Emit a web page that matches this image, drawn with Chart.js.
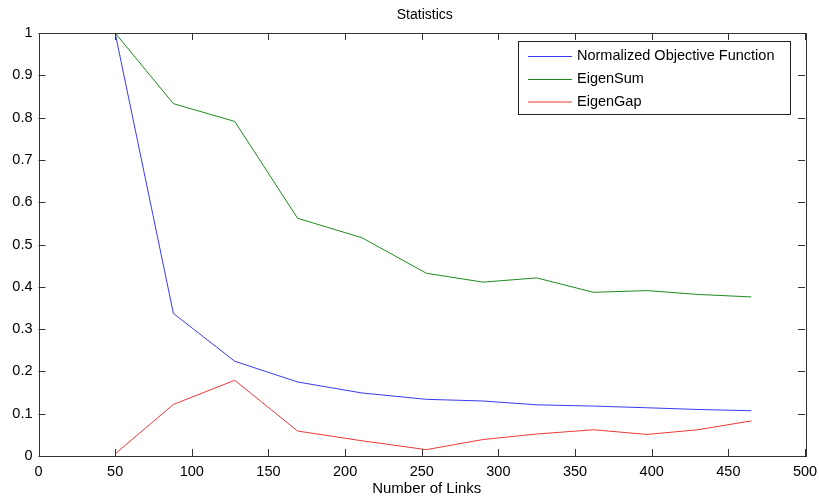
<!DOCTYPE html>
<html>
<head>
<meta charset="utf-8">
<script src="https://cdn.jsdelivr.net/npm/chart.js@4/dist/chart.umd.min.js"></script>
<style>
  html, body { margin: 0; padding: 0; background: #fff; }
  #wrap { width: 819px; height: 496px; }
</style>
</head>
<body>
<div id="wrap"><canvas id="statChart" width="819" height="496"></canvas></div>
<script>
// number of links (x) and the three series
var links = [50, 88, 128, 169, 211, 253, 290, 325, 362, 397, 430, 465];
var objective = [1.0, 0.337, 0.224, 0.175, 0.149, 0.134, 0.130, 0.121, 0.118, 0.114, 0.110, 0.107];
var eigenSum = [1.0, 0.833, 0.791, 0.562, 0.516, 0.432, 0.411, 0.421, 0.387, 0.391, 0.382, 0.376];
var eigenGap = [0.005, 0.122, 0.179, 0.059, 0.036, 0.015, 0.039, 0.052, 0.062, 0.051, 0.062, 0.083];

var xTicks = [0, 50, 100, 150, 200, 250, 300, 350, 400, 450, 500];
var yTicks = [0, 0.1, 0.2, 0.3, 0.4, 0.5, 0.6, 0.7, 0.8, 0.9, 1];

var FONT = '"Liberation Sans", Arial, Helvetica, sans-serif';

function pts(ys) {
    return links.map(function (x, i) { return { x: x, y: ys[i] }; });
}

// matlab style box, inward ticks, title, x label and legend
var matlabBox = {
    id: 'matlabBox',
    afterDraw: function (chart) {
        var ctx = chart.ctx;
        var a = chart.chartArea;
        var xs = chart.scales.x, ys = chart.scales.y;
        ctx.save();
        ctx.strokeStyle = '#333';
        ctx.lineWidth = 1;
        ctx.strokeRect(Math.round(a.left) + 0.5, Math.round(a.top) + 0.5,
            Math.round(a.right - a.left), Math.round(a.bottom - a.top));
        ctx.beginPath();
        xTicks.forEach(function (v) {
            var px = Math.round(xs.getPixelForValue(v)) + 0.5;
            ctx.moveTo(px, a.bottom); ctx.lineTo(px, a.bottom - 7);
            ctx.moveTo(px, a.top); ctx.lineTo(px, a.top + 7);
        });
        yTicks.forEach(function (v) {
            var py = Math.round(ys.getPixelForValue(v)) + 0.5;
            ctx.moveTo(a.left, py); ctx.lineTo(a.left + 7, py);
            ctx.moveTo(a.right, py); ctx.lineTo(a.right - 7, py);
        });
        ctx.stroke();

        ctx.fillStyle = '#000';
        ctx.textAlign = 'center';
        ctx.textBaseline = 'middle';
        ctx.font = '14px ' + FONT;
        var cx = (a.left + a.right) / 2;
        ctx.fillText('Statistics', cx + 3, 15);
        ctx.font = '15px ' + FONT;
        ctx.fillText('Number of Links', cx + 5, 489);

        // legend
        var lx = 518.5, ly = 41.5, lw = 272, lh = 73;
        ctx.fillStyle = '#fff';
        ctx.fillRect(lx, ly, lw, lh);
        ctx.strokeStyle = '#222';
        ctx.strokeRect(lx, ly, lw, lh);
        ctx.font = '14.5px ' + FONT;
        ctx.textAlign = 'left';
        var rows = [56, 79, 101.5];
        chart.data.datasets.forEach(function (ds, i) {
            ctx.strokeStyle = ds.borderColor;
            ctx.beginPath();
            ctx.moveTo(528, rows[i] + 0.5);
            ctx.lineTo(572, rows[i] + 0.5);
            ctx.stroke();
            ctx.fillStyle = '#000';
            ctx.fillText(ds.label, 577, rows[i]);
        });
        ctx.restore();
    }
};

var myLineChart = new Chart('statChart', {
    type: 'line',
    data: {
        datasets: [{
            label: 'Normalized Objective Function',
            data: pts(objective),
            borderColor: '#3a3af0',
            borderWidth: 1,
            pointRadius: 0,
            fill: false
        },
        {
            label: 'EigenSum',
            data: pts(eigenSum),
            borderColor: '#1f8a1f',
            borderWidth: 1,
            pointRadius: 0,
            fill: false
        },
        {
            label: 'EigenGap',
            data: pts(eigenGap),
            borderColor: '#f03838',
            borderWidth: 1,
            pointRadius: 0,
            fill: false
        }]
    },
    options: {
        responsive: false,
        animation: false,
        layout: { padding: { left: 0, right: 14, top: 33, bottom: 0 } },
        plugins: {
            legend: { display: false },
            title: { display: false },
            tooltip: { enabled: false }
        },
        scales: {
            x: {
                type: 'linear',
                min: 0,
                max: 500,
                afterBuildTicks: function (s) { s.ticks = xTicks.map(function (v) { return { value: v }; }); },
                afterFit: function (s) {
                    s.height = 40;
                    s.paddingLeft = 0;
                    s.paddingRight = 0;
                },
                grid: { display: false, drawTicks: false },
                border: { display: false },
                ticks: {
                    padding: 7,
                    color: '#000',
                    maxRotation: 0,
                    font: { family: FONT, size: 14.5 }
                }
            },
            y: {
                min: 0,
                max: 1,
                afterBuildTicks: function (s) { s.ticks = yTicks.map(function (v) { return { value: v }; }); },
                afterFit: function (s) {
                    s.width = 38.5;
                    s.paddingTop = 0;
                    s.paddingBottom = 0;
                },
                grid: { display: false, drawTicks: false },
                border: { display: false },
                ticks: {
                    padding: 6,
                    color: '#000',
                    font: { family: FONT, size: 14.5 },
                    callback: function (v) { return String(Math.round(v * 10) / 10); }
                }
            }
        }
    },
    plugins: [matlabBox]
});
</script>
</body>
</html>
